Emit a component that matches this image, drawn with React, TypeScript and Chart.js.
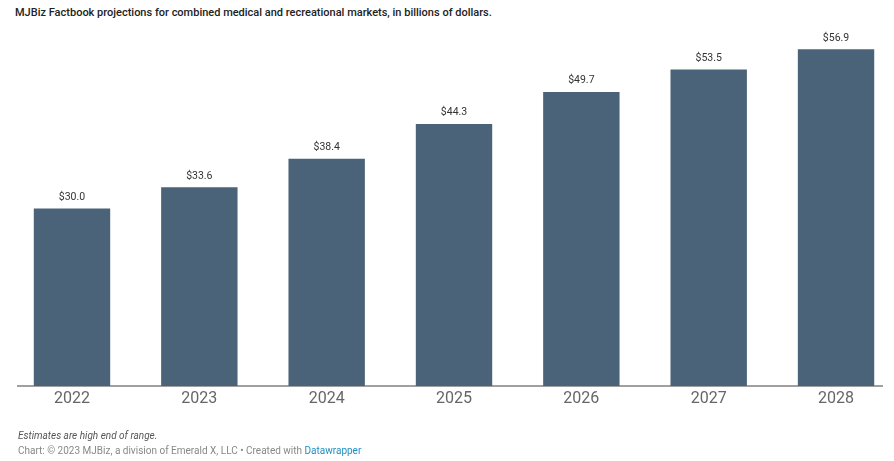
import React, { useEffect, useRef } from "react";
import { Chart, registerables } from "chart.js";

Chart.register(...registerables);

const years = ["2022", "2023", "2024", "2025", "2026", "2027", "2028"];
const values = [30.0, 33.6, 38.4, 44.3, 49.7, 53.5, 56.9];
const valueLabels = ["$30.0", "$33.6", "$38.4", "$44.3", "$49.7", "$53.5", "$56.9"];

const titleText =
  "MJBiz Factbook projections for combined medical and recreational markets, in billions of dollars.";
const noteText = "Estimates are high end of range.";
const creditText = "Chart: © 2023 MJBiz, a division of Emerald X, LLC • Created with ";
const creditLink = "Datawrapper";

const FONT = "Roboto, 'Noto Sans', sans-serif";

const valueLabelPlugin = {
  id: "valueLabels",
  afterDatasetsDraw(chart: any) {
    const ctx = chart.ctx;
    const meta = chart.getDatasetMeta(0);
    ctx.save();
    ctx.font = `10.5px ${FONT}`;
    ctx.fillStyle = "#333333";
    ctx.textAlign = "center";
    ctx.textBaseline = "bottom";
    meta.data.forEach((bar: any, i: number) => {
      ctx.fillText(valueLabels[i], bar.x, bar.y - 6);
    });
    ctx.restore();
  },
};

export default function App() {
  const canvasRef = useRef<HTMLCanvasElement | null>(null);

  useEffect(() => {
    if (!canvasRef.current) return;
    const chart = new Chart(canvasRef.current, {
      type: "bar",
      data: {
        datasets: [
          {
            data: values.map((v, i) => ({ x: i, y: v })),
            backgroundColor: "#4a6379",
            borderWidth: 0,
            barPercentage: 0.6,
            categoryPercentage: 1,
          },
        ],
      },
      options: {
        animation: false,
        responsive: false,
        maintainAspectRatio: false,
        layout: { padding: { left: 18, right: 12, top: 31, bottom: 45 } },
        plugins: {
          legend: { display: false },
          tooltip: { enabled: false },
          title: { display: false },
        },
        scales: {
          x: {
            type: "linear",
            offset: false,
            min: -0.424,
            max: 6.361,
            grid: { display: false, drawTicks: false, offset: false },
            border: { display: true, color: "#a0a0a0", width: 2 },
            afterBuildTicks: (scale: any) => {
              scale.ticks = years.map((_, i) => ({ value: i }));
            },
            afterFit: (scale: any) => {
              scale.height = 30;
            },
            ticks: {
              padding: 3,
              autoSkip: false,
              maxRotation: 0,
              color: "#666666",
              font: { family: FONT, size: 16 },
              callback: (v: any) => years[Math.round(Number(v))] ?? "",
            },
          },
          y: {
            display: false,
            min: 0,
            max: 60,
          },
        },
      },
      plugins: [valueLabelPlugin],
    });
    return () => chart.destroy();
  }, []);

  return (
    <div
      style={{
        position: "absolute",
        left: 0,
        top: 0,
        width: 894,
        height: 461,
        background: "#ffffff",
        overflow: "hidden",
        fontFamily: FONT,
      }}
    >
      <div
        style={{
          position: "absolute",
          left: 15,
          top: 6,
          fontSize: 11,
          lineHeight: "14px",
          color: "#222222",
          fontWeight: 500,
          whiteSpace: "nowrap",
        }}
      >
        {titleText}
      </div>
      <canvas
        ref={canvasRef}
        width={894}
        height={461}
        style={{ position: "absolute", left: 0, top: 0, width: 894, height: 461 }}
      />
      <div
        style={{
          position: "absolute",
          left: 18,
          top: 429,
          fontSize: 10,
          lineHeight: "13px",
          color: "#555555",
          fontStyle: "italic",
          whiteSpace: "nowrap",
        }}
      >
        {noteText}
      </div>
      <div
        style={{
          position: "absolute",
          left: 18,
          top: 445,
          fontSize: 10,
          lineHeight: "12px",
          color: "#888888",
          whiteSpace: "nowrap",
        }}
      >
        {creditText}
        <span style={{ color: "#1d8ec1" }}>{creditLink}</span>
      </div>
    </div>
  );
}
